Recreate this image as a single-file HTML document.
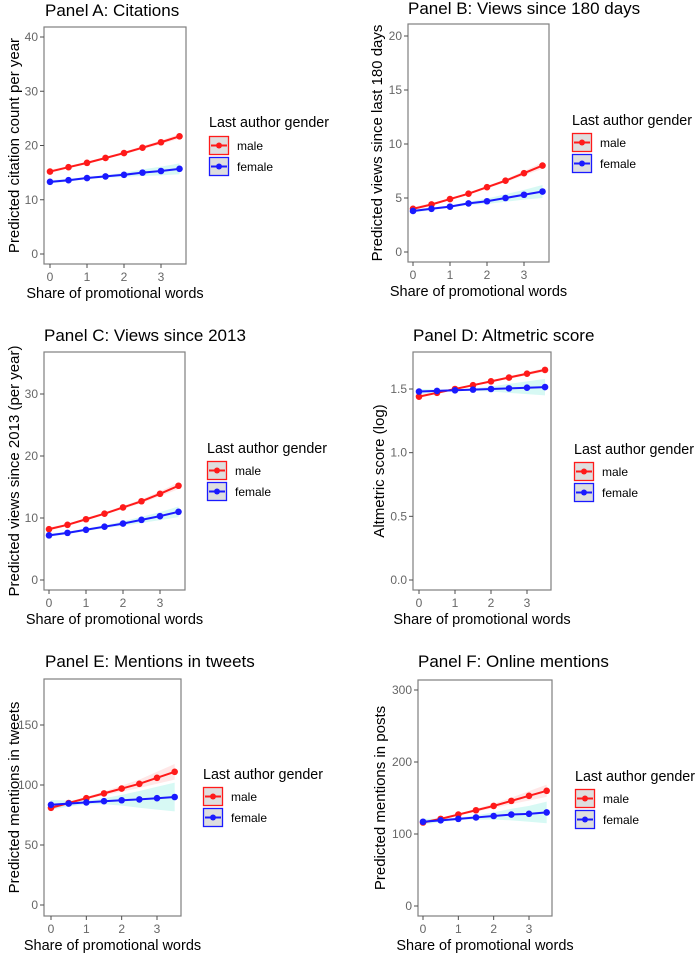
<!DOCTYPE html>
<html><head><meta charset="utf-8">
<style>
body{margin:0;background:#fff;}
svg{display:block;font-family:"Liberation Sans",Arial,sans-serif;}
</style></head>
<body>
<svg id="fig" width="700" height="953" viewBox="0 0 700 953" xmlns="http://www.w3.org/2000/svg"></svg>
<script>
const xVals = [0,0.5,1,1.5,2,2.5,3,3.5];
const xTicks = [0,1,2,3];
const panelTitles = ["Panel A: Citations","Panel B: Views since 180 days","Panel C: Views since 2013","Panel D: Altmetric score","Panel E: Mentions in tweets","Panel F: Online mentions"];
const yTitles = ["Predicted citation count per year","Predicted views since last 180 days","Predicted views since 2013 (per year)","Altmetric score (log)","Predicted mentions in tweets","Predicted mentions in posts"];
const yTicksA = [0,10,20,30,40];
const yTicksB = [0,5,10,15,20];
const yTicksC = [0,10,20,30];
const yTicksD = [0,0.5,1,1.5];
const yTicksE = [0,50,100,150];
const yTicksF = [0,100,200,300];
const maleA = [15.2,16.0,16.8,17.7,18.6,19.6,20.6,21.7];
const femaleA = [13.3,13.6,14.0,14.3,14.6,15.0,15.3,15.7];
const maleCiA = [0.3,0.25,0.2,0.2,0.25,0.3,0.35,0.45];
const femaleCiA = [0.3,0.25,0.2,0.25,0.4,0.6,0.8,1.0];
const maleB = [4.0,4.4,4.9,5.4,6.0,6.6,7.3,8.0];
const femaleB = [3.8,4.0,4.2,4.5,4.7,5.0,5.3,5.6];
const maleCiB = [0.15,0.12,0.1,0.1,0.12,0.15,0.2,0.3];
const femaleCiB = [0.15,0.12,0.1,0.15,0.25,0.35,0.45,0.6];
const maleC = [8.2,8.9,9.8,10.7,11.7,12.7,13.9,15.2];
const femaleC = [7.2,7.6,8.1,8.6,9.1,9.7,10.3,11.0];
const maleCiC = [0.25,0.2,0.2,0.2,0.25,0.3,0.4,0.55];
const femaleCiC = [0.25,0.2,0.2,0.25,0.35,0.5,0.65,0.85];
const maleD = [1.44,1.47,1.50,1.53,1.56,1.59,1.62,1.65];
const femaleD = [1.48,1.485,1.49,1.495,1.50,1.505,1.51,1.515];
const maleCiD = [0.01,0.008,0.006,0.006,0.008,0.01,0.012,0.015];
const femaleCiD = [0.02,0.012,0.006,0.01,0.02,0.035,0.05,0.065];
const maleE = [81,85,89,93,97,101,106,111];
const femaleE = [83.5,84.5,85.5,86.5,87.3,88,89,90];
const maleCiE = [1.5,1.2,1.2,1.5,2.5,3.5,5,6.5];
const femaleCiE = [4,2.5,1.5,2.5,4.5,7,9.5,12];
const maleF = [116,121,127,133,139,146,153,160];
const femaleF = [117,119,121,123,125,127,128,130];
const maleCiF = [2,1.5,1.5,2,3,4.5,6.5,8.5];
const femaleCiF = [4,2.5,1.5,3,5,8,11,15];

const panels = [
 {id:"a",left:44,right:186,top:27,bottom:264,x0px:50,x3px:161,yt:yTicksA,y0v:0,y0px:254,y1v:40,y1px:37,m:maleA,f:femaleA,mc:maleCiA,fc:femaleCiA,ttlX:45,ttlY:16,ytX:14,legX:209,legY:127,keyY:136},
 {id:"b",left:408,right:549,top:24,bottom:262,x0px:413,x3px:524,yt:yTicksB,y0v:0,y0px:252,y1v:20,y1px:36,m:maleB,f:femaleB,mc:maleCiB,fc:femaleCiB,ttlX:408,ttlY:14,ytX:377,legX:572,legY:125,keyY:133},
 {id:"c",left:44,right:185,top:352,bottom:590,x0px:49,x3px:160,yt:yTicksC,y0v:0,y0px:580,y1v:30,y1px:394,m:maleC,f:femaleC,mc:maleCiC,fc:femaleCiC,ttlX:44,ttlY:341,ytX:14,legX:207,legY:453,keyY:461},
 {id:"d",left:413,right:551,top:352,bottom:590,x0px:419,x3px:527,yt:yTicksD,y0v:0,y0px:580,y1v:1.5,y1px:389,m:maleD,f:femaleD,mc:maleCiD,fc:femaleCiD,ttlX:413,ttlY:341,ytX:379,legX:574,legY:454,keyY:462},
 {id:"e",left:44,right:181,top:679,bottom:916,x0px:51,x3px:157,yt:yTicksE,y0v:0,y0px:905,y1v:150,y1px:725,m:maleE,f:femaleE,mc:maleCiE,fc:femaleCiE,ttlX:45,ttlY:667,ytX:14,legX:203,legY:779,keyY:787},
 {id:"f",left:418,right:552,top:680,bottom:916,x0px:423,x3px:529,yt:yTicksF,y0v:0,y0px:906,y1v:300,y1px:690,m:maleF,f:femaleF,mc:maleCiF,fc:femaleCiF,ttlX:418,ttlY:667,ytX:380,legX:575,legY:781,keyY:789}
];
const NS="http://www.w3.org/2000/svg";
const svg=document.getElementById("fig");
function mk(tag,attrs,parent,text){
  const e=document.createElementNS(NS,tag);
  for(const k in attrs) e.setAttribute(k,attrs[k]);
  if(text!==undefined) e.textContent=text;
  (parent||svg).appendChild(e);
  return e;
}
const RED="#ff1a1a", BLUE="#1a1aff";
panels.forEach((p,i)=>{
  const g=mk("g",{});
  
  
  const sx=v=>p.x0px+(p.x3px-p.x0px)*v/3;
  const sy=v=>p.y0px+(p.y1px-p.y0px)*(v-p.y0v)/(p.y1v-p.y0v);
  const t=mk("text",{x:p.ttlX,y:p.ttlY,"font-size":"17","fill":"#000"},g,panelTitles[i]);
  
  
  [[p.m,p.mc,"rgba(255,120,120,0.18)","male"],[p.f,p.fc,"rgba(110,235,215,0.28)","female"]].forEach(s=>{
    let d="";
    xVals.forEach((x,k)=>{d+=(k?"L":"M")+sx(x)+","+sy(s[0][k]+s[1][k]);});
    for(let k=xVals.length-1;k>=0;k--) d+="L"+sx(xVals[k])+","+sy(s[0][k]-s[1][k]);
    const b=mk("path",{d:d+"Z",fill:s[2]},g);
    
    
  });
  [[p.m,RED,"male"],[p.f,BLUE,"female"]].forEach(s=>{
    const pts=xVals.map((x,k)=>sx(x)+","+sy(s[0][k])).join(" ");
    const l=mk("polyline",{points:pts,fill:"none",stroke:s[1],"stroke-width":"2"},g);
    
    
    xVals.forEach((x,k)=>{
      const c=mk("circle",{cx:sx(x),cy:sy(s[0][k]),r:"3.3",fill:s[1]},g);
      
      
    });
  });
  const box=mk("rect",{x:p.left,y:p.top,width:p.right-p.left,height:p.bottom-p.top,fill:"none",stroke:"#7f7f7f","stroke-width":"1.2"},g);
  
  
  p.yt.forEach(v=>{
    const y=sy(v);
    mk("line",{x1:p.left-4,x2:p.left,y1:y,y2:y,stroke:"#4d4d4d","stroke-width":"1"},g);
    const tl=mk("text",{x:p.left-6,y:y+4,"font-size":"12",fill:"#666","text-anchor":"end"},g,String(p.id==="d"?v.toFixed(1):v));
    
    
  });
  xTicks.forEach(v=>{
    const x=sx(v);
    mk("line",{x1:x,x2:x,y1:p.bottom,y2:p.bottom+4,stroke:"#4d4d4d","stroke-width":"1"},g);
    const tl=mk("text",{x:x,y:p.bottom+17,"font-size":"12",fill:"#666","text-anchor":"middle"},g,String(v));
    
    
  });
  const xt=mk("text",{x:(p.left+p.right)/2,y:p.bottom+34,"font-size":"14.5","text-anchor":"middle",fill:"#000"},g,"Share of promotional words");
  
  
  const cy=(p.top+p.bottom)/2;
  const yt=mk("text",{x:p.ytX,y:cy,"font-size":"15","text-anchor":"middle",fill:"#000",transform:"rotate(-90 "+p.ytX+" "+cy+") translate(0 5)"},g,yTitles[i]);
  
  
  const lg=mk("g",{},g);
  
  
  mk("text",{x:p.legX,y:p.legY,"font-size":"14.3",fill:"#000"},lg,"Last author gender");
  [["male",RED],["female",BLUE]].forEach((s,k)=>{
    const ky=p.keyY+k*21;
    const ke=mk("g",{},lg);
    
    
    mk("rect",{x:p.legX+0.5,y:ky+0.5,width:19,height:18,fill:"#dedede",stroke:s[1],"stroke-width":"1.3"},ke);
    mk("line",{x1:p.legX+2,x2:p.legX+18,y1:ky+9.5,y2:ky+9.5,stroke:s[1],"stroke-width":"2"},ke);
    mk("circle",{cx:p.legX+10,cy:ky+9.5,r:"3",fill:s[1]},ke);
    mk("text",{x:p.legX+28,y:ky+14,"font-size":"12",fill:"#000"},ke,s[0]);
  });
});
</script>
</body></html>
